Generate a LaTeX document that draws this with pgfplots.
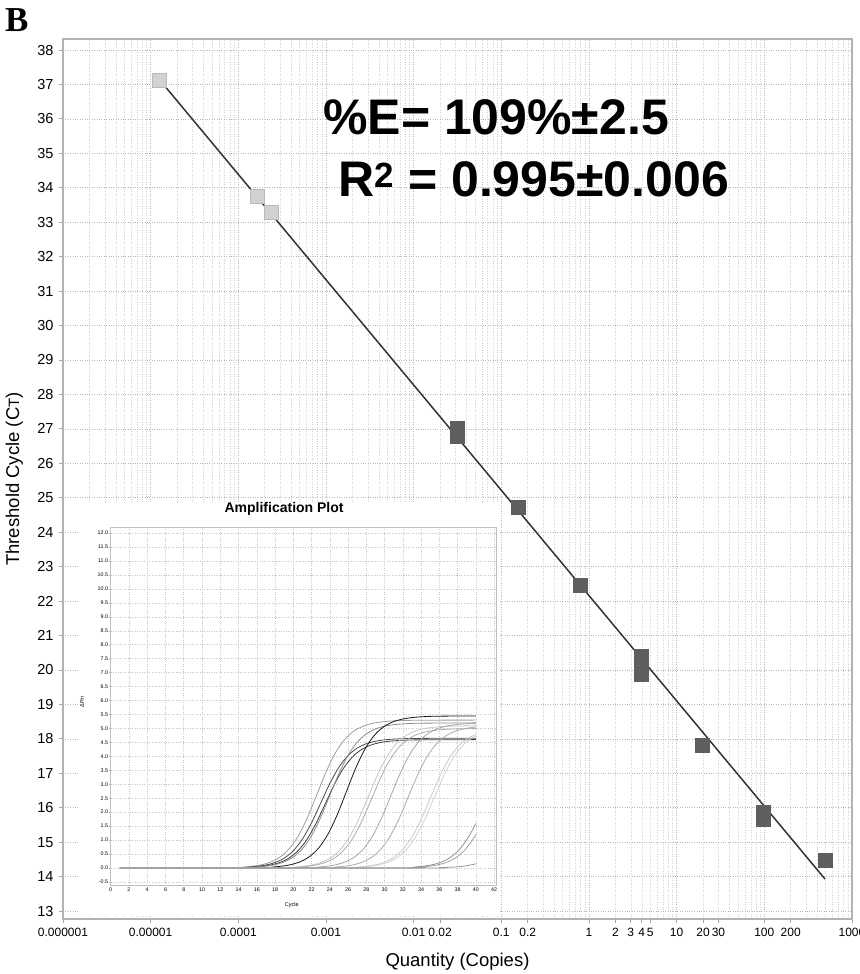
\documentclass[border=0pt]{standalone}
\usepackage{fontspec}
\setmainfont{Liberation Sans}
\newfontfamily\serifb{Liberation Serif}
\usepackage{pgfplots}
\pgfplotsset{compat=1.18}
\begin{document}
\begin{tikzpicture}[x=1pt,y=1pt]
\path[use as bounding box] (0,0) rectangle (859,974);
\begin{axis}[
  at={(63pt,55pt)}, anchor=south west,
  scale only axis, width=789pt, height=880pt,
  xmode=log, xmin=1e-6, xmax=1000,
  ymin=12.77, ymax=38.32,
  xtick={1e-6,1e-5,1e-4,1e-3,1e-2,1e-1,1,10,100,1000},
  xticklabels={0.000001,0.00001,0.0001,0.001,0.01,0.1,1,10,100,1000},
  extra x ticks={0.02,0.2,2,3,4,5,20,30,200},
  extra x tick labels={0.02,0.2,2,3,4,5,20,30,200},
  extra x tick style={grid=none},
  minor xtick={2e-6,3e-6,4e-6,5e-6,6e-6,7e-6,8e-6,9e-6,
    2e-5,3e-5,4e-5,5e-5,6e-5,7e-5,8e-5,9e-5,
    2e-4,3e-4,4e-4,5e-4,6e-4,7e-4,8e-4,9e-4,
    2e-3,3e-3,4e-3,5e-3,6e-3,7e-3,8e-3,9e-3,
    0.02,0.03,0.04,0.05,0.06,0.07,0.08,0.09,
    0.2,0.3,0.4,0.5,0.6,0.7,0.8,0.9,
    2,3,4,5,6,7,8,9,20,30,40,50,60,70,80,90,
    200,300,400,500,600,700,800,900},
  ytick={13,14,...,38},
  grid=both,
  major grid style={gray!55, dotted, line width=0.6pt},
  minor grid style={gray!35, dotted, line width=0.5pt},
  tick align=outside, xtick pos=bottom, ytick pos=left,
  major tick length=4pt, minor tick length=0pt,
  tick style={gray!70, line width=0.8pt},
  axis line style={gray!60, line width=1.5pt},
  xticklabel style={font=\fontsize{12}{12}\selectfont, yshift=-2pt},
  yticklabel style={font=\fontsize{14.5}{14.5}\selectfont, xshift=-2pt},
  xlabel={Quantity (Copies)},
  ylabel={Threshold Cycle (C{\fontsize{15}{15}\selectfont T})},
  label style={font=\fontsize{18.5}{18.5}\selectfont},
  xlabel style={at={(axis description cs:0.5,-0.0489)}, anchor=center},
  ylabel style={at={(axis description cs:-0.0617,0.5)}, anchor=center},
  /pgf/number format/assume math mode=true,
]
\addplot[black!80, line width=1.5pt] coordinates {(1.25e-5,37.15) (492,13.93)};
\addplot[only marks, mark=square*, mark size=7pt, mark options={fill=gray!35, draw=gray!55, line width=0.8pt}]
  coordinates {(1.25e-5,37.13) (1.64e-4,33.74) (2.40e-4,33.29)};
\addplot[only marks, mark=square*, mark size=7pt, mark options={fill=black!63, draw=black!63, line width=0.8pt}]
  coordinates {(0.0316,27.01) (0.0316,26.77) (0.158,24.72) (0.79,22.47)
  (3.95,20.40) (3.95,20.13) (3.95,19.86) (19.75,17.80) (98.8,15.87) (98.8,15.67) (494,14.47)};
\end{axis}

\node[anchor=base west, inner sep=0pt, font=\serifb\bfseries\fontsize{35}{35}\selectfont] at (5,942) {B};
\node[anchor=base west, inner sep=0pt, font=\bfseries\fontsize{50}{50}\selectfont] at (323,839) {\%E= 109\%±2.5};
\node[anchor=base west, inner sep=0pt, font=\bfseries\fontsize{50}{50}\selectfont] at (338,777.3) {R\textsuperscript{2} = 0.995±0.006};

\fill[white] (78,59) rectangle (500,471);

\begin{axis}[
  at={(110.7pt,89pt)}, anchor=south west,
  scale only axis, width=385.3pt, height=357.7pt,
  xmin=0, xmax=42.2, ymin=-0.61, ymax=12.21,
  xtick={0,2,...,42}, ytick={-0.5,0,...,12},
  grid=major,
  major grid style={gray!45, dotted, line width=0.55pt},
  tick align=outside, xtick pos=bottom, ytick pos=left,
  major tick length=1.5pt,
  tick style={gray!60, line width=0.4pt},
  axis line style={gray!50, line width=0.8pt},
  ticklabel style={font=\fontsize{5.3}{5.3}\selectfont, inner sep=1pt},
  yticklabel style={/pgf/number format/.cd, fixed, fixed zerofill, precision=1},
  /pgf/number format/assume math mode=true,
  title={Amplification Plot},
  title style={font=\bfseries\fontsize{14}{14}\selectfont, at={(axis description cs:0.45,1.0344)}, anchor=center},
  xlabel={Cycle}, ylabel={ΔRn},
  label style={font=\fontsize{5.5}{5.5}\selectfont},
  xlabel style={at={(axis description cs:0.47,-0.056)}, anchor=center},
  ylabel style={at={(axis description cs:-0.0745,0.512)}, anchor=center},
  every axis plot/.append style={smooth, line width=0.8pt},
]
\addplot[gray!75] coordinates {(1,0) (12.6,0) (14.6,0.035) (15.6,0.066) (16.6,0.122) (17.6,0.223) (18.6,0.402) (19.6,0.705) (20.6,1.180) (21.6,1.848) (22.6,2.650) (23.6,3.452) (24.6,4.120) (25.6,4.595) (26.6,4.898) (27.6,5.077) (28.6,5.178) (29.6,5.234) (30.6,5.265) (31.6,5.281) (32.6,5.290) (36,5.298) (40,5.300)};
\addplot[black!70] coordinates {(1,0) (13,0) (15,0.031) (16,0.058) (17,0.107) (18,0.196) (19,0.353) (20,0.618) (21,1.036) (22,1.621) (23,2.325) (24,3.029) (25,3.614) (26,4.032) (27,4.297) (28,4.454) (29,4.543) (30,4.592) (31,4.619) (32,4.633) (33,4.641) (36,4.648) (40,4.650)};
\addplot[black!75] coordinates {(1,0) (13.5,0) (15.5,0.031) (16.5,0.057) (17.5,0.106) (18.5,0.194) (19.5,0.349) (20.5,0.612) (21.5,1.024) (22.5,1.604) (23.5,2.300) (24.5,2.996) (25.5,3.576) (26.5,3.988) (27.5,4.251) (28.5,4.406) (29.5,4.494) (30.5,4.543) (31.5,4.569) (32.5,4.583) (33.5,4.591) (40,4.600)};
\addplot[gray!90] coordinates {(1,0) (14,0) (16,0.035) (17,0.065) (18,0.119) (19,0.219) (20,0.394) (21,0.691) (22,1.158) (23,1.813) (24,2.600) (25,3.387) (26,4.042) (27,4.509) (28,4.806) (29,4.981) (30,5.081) (31,5.135) (32,5.165) (33,5.181) (34,5.190) (40,5.200)};
\addplot[black!90] coordinates {(1,0) (15.8,0) (17.8,0.036) (18.8,0.068) (19.8,0.125) (20.8,0.229) (21.8,0.413) (22.8,0.725) (23.8,1.214) (24.8,1.900) (25.8,2.725) (26.8,3.550) (27.8,4.236) (28.8,4.725) (29.8,5.037) (30.8,5.221) (31.8,5.325) (32.8,5.382) (33.8,5.414) (34.8,5.430) (35.8,5.440) (40,5.450)};
\addplot[gray!45] coordinates {(1,0) (18.2,0) (20.2,0.034) (21.2,0.063) (22.2,0.117) (23.2,0.215) (24.2,0.387) (25.2,0.678) (26.2,1.136) (27.2,1.778) (28.2,2.550) (29.2,3.322) (30.2,3.964) (31.2,4.422) (32.2,4.713) (33.2,4.885) (34.2,4.983) (35.2,5.037) (36.2,5.066) (37.2,5.082) (38.2,5.090) (40,5.097)};
\addplot[gray!65] coordinates {(1,0) (18.6,0) (20.6,0.033) (21.6,0.062) (22.6,0.115) (23.6,0.210) (24.6,0.379) (25.6,0.665) (26.6,1.114) (27.6,1.743) (28.6,2.500) (29.6,3.257) (30.6,3.887) (31.6,4.335) (32.6,4.621) (33.6,4.790) (34.6,4.885) (35.6,4.938) (36.6,4.967) (37.6,4.982) (38.6,4.990) (40,4.995)};
\addplot[gray!70] coordinates {(1,0) (20.7,0) (22.7,0.035) (23.7,0.065) (24.7,0.119) (25.7,0.219) (26.7,0.394) (27.7,0.691) (28.7,1.158) (29.7,1.813) (30.7,2.600) (31.7,3.387) (32.7,4.042) (33.7,4.509) (34.7,4.806) (35.7,4.981) (36.7,5.081) (37.7,5.135) (38.7,5.165) (39.7,5.181) (40,5.185)};
\addplot[gray!65] coordinates {(1,0) (22.6,0) (24.6,0.034) (25.6,0.063) (26.6,0.117) (27.6,0.215) (28.6,0.387) (29.6,0.678) (30.6,1.136) (31.6,1.778) (32.6,2.550) (33.6,3.322) (34.6,3.964) (35.6,4.422) (36.6,4.713) (37.6,4.885) (38.6,4.983) (39.6,5.037) (40,5.050)};
\addplot[gray!40] coordinates {(1,0) (25,0) (27,0.033) (28,0.062) (29,0.115) (30,0.210) (31,0.379) (32,0.665) (33,1.114) (34,1.743) (35,2.500) (36,3.257) (37,3.887) (38,4.335) (39,4.621) (40,4.790)};
\addplot[gray!35] coordinates {(1,0) (25.4,0) (27.4,0.033) (28.4,0.062) (29.4,0.115) (30.4,0.210) (31.4,0.379) (32.4,0.665) (33.4,1.114) (34.4,1.743) (35.4,2.500) (36.4,3.257) (37.4,3.887) (38.4,4.335) (39.4,4.621) (40,4.733)};
\addplot[gray!85] coordinates {(1,0) (31.2,0) (33.2,0.033) (34.2,0.062) (35.2,0.115) (36.2,0.210) (37.2,0.379) (38.2,0.665) (39.2,1.114) (40,1.600)};
\addplot[gray!75] coordinates {(1,0) (31.85,0) (33.85,0.033) (34.85,0.062) (35.85,0.115) (36.85,0.210) (37.85,0.379) (38.85,0.665) (39.85,1.114) (40,1.200)};
\addplot[gray!80] coordinates {(1,0) (34,0) (36,0.013) (37,0.024) (38,0.044) (39,0.080) (40,0.150)};
\end{axis}
\end{tikzpicture}
\end{document}
